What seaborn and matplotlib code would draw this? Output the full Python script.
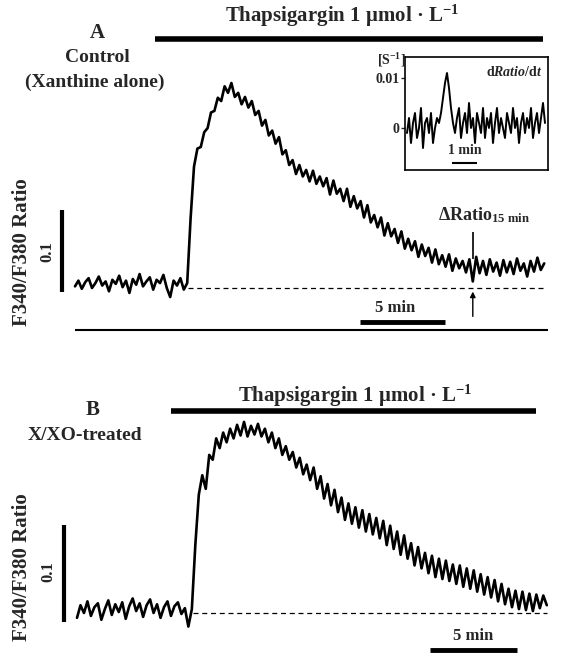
import numpy as np
import pandas as pd
import matplotlib
matplotlib.use("Agg")
import matplotlib.pyplot as plt
import seaborn as sns

# ======================================================
# Data
# ratios are F340/F380 minus the resting baseline, in units of 0.001
# ======================================================
step_min = 0.2

ratio_a = [
    2, 9, -1, 7, 12, 0, 6, 14, 3, 8, -4, 10, 5, 15, 1, 9, -6, 11, 4, 17,
    2, 8, 13, -2, 10, 6, 16, 0, -11, 9, 3, 12, -2, 6,
    85, 148, 170, 172, 190, 195, 214, 216, 232, 228, 246, 238, 250, 233, 238, 224,
    233, 220, 228, 211, 216, 198, 205, 186, 192, 176, 184, 163, 168, 150, 156, 139,
    150, 136, 144,
    130, 143, 127, 136, 124, 134, 114, 131, 115, 121, 106, 121, 99, 112, 97, 106,
    86, 101, 80, 89, 74, 86, 64, 79, 63, 72, 55, 69, 48, 60, 46, 57, 38, 53, 39, 49,
    31, 47, 29, 40, 26, 41, 21, 36, 24, 33, 19, 35,
    8, 38, 18, 33, 16, 35, 20, 31, 15, 34, 19, 32, 17, 36, 21, 30, 14, 33, 20, 37,
    22, 30,
]

ratio_b = [
    -5, 8, 0, 12, -3, 6, 10, -7, 4, 13, -2, 9, 1, 11, -6, 7, 15, 2, 10, -4,
    8, 14, 0, 9, -5, 6, 12, -3, 7, 11, -1, 5, -14, 4,
    70, 122, 142, 128, 163, 158, 180, 170, 186, 176, 190, 180, 194, 183, 197, 182,
    193, 184, 195, 182, 190, 176, 186, 170, 180, 163, 172, 158, 166, 150, 160, 143,
    153,
    137, 150, 128, 141, 118, 133, 111, 127, 104, 119, 96, 113, 92, 109, 88, 106,
    84, 102, 81, 98, 77, 95, 70, 90, 66, 84, 60, 80, 56, 72, 49, 68, 46, 62, 41, 59,
    37, 56, 35, 54, 33, 50, 30, 49, 27, 46, 25, 44, 22, 40, 19, 37, 16, 34, 12, 30,
    9, 25, 6, 23, 4, 22, 3, 20, 2, 19, 5, 18, 8,
]

# inset: dRatio/dt in units of 0.001 s^-1
inset_step_min = 0.08
dratio_dt = [
    -1, 2, -3, 1, 3, -2, 0, 4, -4, 1,
    2, -1, 3, -3, 0, 2, 1, 3, 6, 9,
    11, 8, 4, 1, -1, 2, 4, -2, 1, 3,
    -1, 5, 0, 2, -3, 3, 1, -1, 4, -2,
    2, 0, 3, -3, 1, 4, -1, 2, 0, -2,
    3, 1, -1, 4, 0, 2, -3, 1, 3, -1,
    2, 0, 4, -2, 1, 3, -1, 2, 5, 1,
]

drug_label = "Thapsigargin 1 μmol · L$^{-1}$"
ylabel = "F340/F380 Ratio"
# thapsigargin application bars (min), dashed baseline start (min)
drug_a = (4.7, 27.5)
drug_b = (5.4, 26.4)
rise_a, rise_b = 6.65, 6.67

df_a = pd.DataFrame({"t": np.arange(len(ratio_a)) * step_min, "r": np.array(ratio_a) / 1000})
df_b = pd.DataFrame({"t": np.arange(len(ratio_b)) * step_min, "r": np.array(ratio_b) / 1000})
df_in = pd.DataFrame({"t": np.arange(len(dratio_dt)) * inset_step_min, "v": np.array(dratio_dt) / 1000})

# ======================================================
# Style
# ======================================================
sns.set_style("white")
plt.rcParams["font.family"] = ["Liberation Serif", "DejaVu Serif"]
plt.rcParams["font.weight"] = "bold"
plt.rcParams["mathtext.fontset"] = "custom"
plt.rcParams["mathtext.rm"] = "Liberation Serif:bold"
plt.rcParams["mathtext.it"] = "Liberation Serif:italic:bold"
plt.rcParams["mathtext.bf"] = "Liberation Serif:bold"

W, H = 567, 655
fig = plt.figure(figsize=(W / 100, H / 100), dpi=100)


def panel(top, bottom, x0, px_min, y0, px_unit):
    # axes covering full width between pixel rows; x0/y0 = pixel of t=0 / r=0
    ax = fig.add_axes([0, 1 - bottom / H, 1, (bottom - top) / H])
    ax.set_xlim(-x0 / px_min, (W - x0) / px_min)
    ax.set_ylim((y0 - bottom) / px_unit, (y0 - top) / px_unit)
    ax.axis("off")
    return ax


def txt(x, y, s, size, **kw):
    fig.text(x / W, 1 - y / H, s, fontsize=size, ha=kw.pop("ha", "center"),
             va=kw.pop("va", "center"), fontweight="bold", **kw)


# ======================================================
# Panel A
# ======================================================
ax_a = panel(0, 340, 75, 17.0, 288, 820)
sns.lineplot(data=df_a, x="t", y="r", ax=ax_a, color="black", lw=1.9, estimator=None, sort=False)
ax_a.hlines(0, rise_a, df_a["t"].iloc[-1], color="black", lw=0.9, linestyles=(0, (4, 3)))
ax_a.hlines(0.3037, *drug_a, color="black", lw=4)
ax_a.hlines(-0.051, 0, 27.8, color="black", lw=1.5)
ax_a.vlines(-0.76, -0.005, 0.095, color="black", lw=3)
ax_a.hlines(-0.041, 16.76, 21.76, color="black", lw=3.5)
ax_a.vlines(23.4, 0.035, 0.068, color="black", lw=1.2)
ax_a.annotate("", xy=(23.4, -0.001), xytext=(23.4, -0.038),
              arrowprops=dict(arrowstyle="-|>", color="black", lw=1, mutation_scale=8))

txt(342, 16, drug_label, 15)
txt(97, 33, "A", 15)
txt(97, 58, "Control", 14)
txt(95, 82, "(Xanthine alone)", 14)
txt(22, 252, ylabel, 15, rotation=90)
txt(47, 252, "0.1", 12, rotation=90)
txt(395, 308, "5 min", 12)
txt(438, 215, r"ΔRatio$_{\mathrm{15\ min}}$", 13, ha="left")

# inset
ax_in = fig.add_axes([405 / W, 1 - 170 / H, (548 - 405) / W, (170 - 57) / H])
sns.lineplot(data=df_in, x="t", y="v", ax=ax_in, color="black", lw=1.4, estimator=None, sort=False)
ax_in.set_xlim(-0.08, 5.64)
ax_in.set_ylim(-0.0084, 0.0142)
ax_in.set_xticks([])
ax_in.set_yticks([0, 0.01])
ax_in.set_yticklabels(["0", "0.01"])
ax_in.tick_params(left=True, length=3, width=1, direction="out", labelsize=10, pad=1)
ax_in.set_xlabel("")
ax_in.set_ylabel("")
for sp in ax_in.spines.values():
    sp.set_color("black")
    sp.set_linewidth(1.2)
ax_in.hlines(-0.007, 1.8, 2.8, color="black", lw=1.5)
ax_in.text(2.3, -0.0046, "1 min", fontsize=10, ha="center", va="center", fontweight="bold")
ax_in.text(0.96, 0.93, r"d$\mathit{Ratio}$/d$\mathit{t}$", transform=ax_in.transAxes,
           fontsize=10, ha="right", va="top", fontweight="bold")
txt(391, 60, "[S$^{-1}$]", 10)

# ======================================================
# Panel B
# ======================================================
ax_b = panel(340, 655, 77, 17.4, 613, 970)
sns.lineplot(data=df_b, x="t", y="r", ax=ax_b, color="black", lw=1.9, estimator=None, sort=False)
ax_b.hlines(0, rise_b, df_b["t"].iloc[-1], color="black", lw=0.9, linestyles=(0, (4, 3)))
ax_b.hlines(0.208, *drug_b, color="black", lw=4)
ax_b.vlines(-0.75, -0.009, 0.091, color="black", lw=3)
ax_b.hlines(-0.038, 20.3, 25.3, color="black", lw=3.5)

txt(355, 396, drug_label, 15)
txt(93, 410, "B", 15)
txt(85, 435, "X/XO-treated", 14)
txt(22, 567, ylabel, 15, rotation=90)
txt(48, 572, "0.1", 12, rotation=90)
txt(473, 636, "5 min", 12)

fig.savefig("out.png", dpi=100)
